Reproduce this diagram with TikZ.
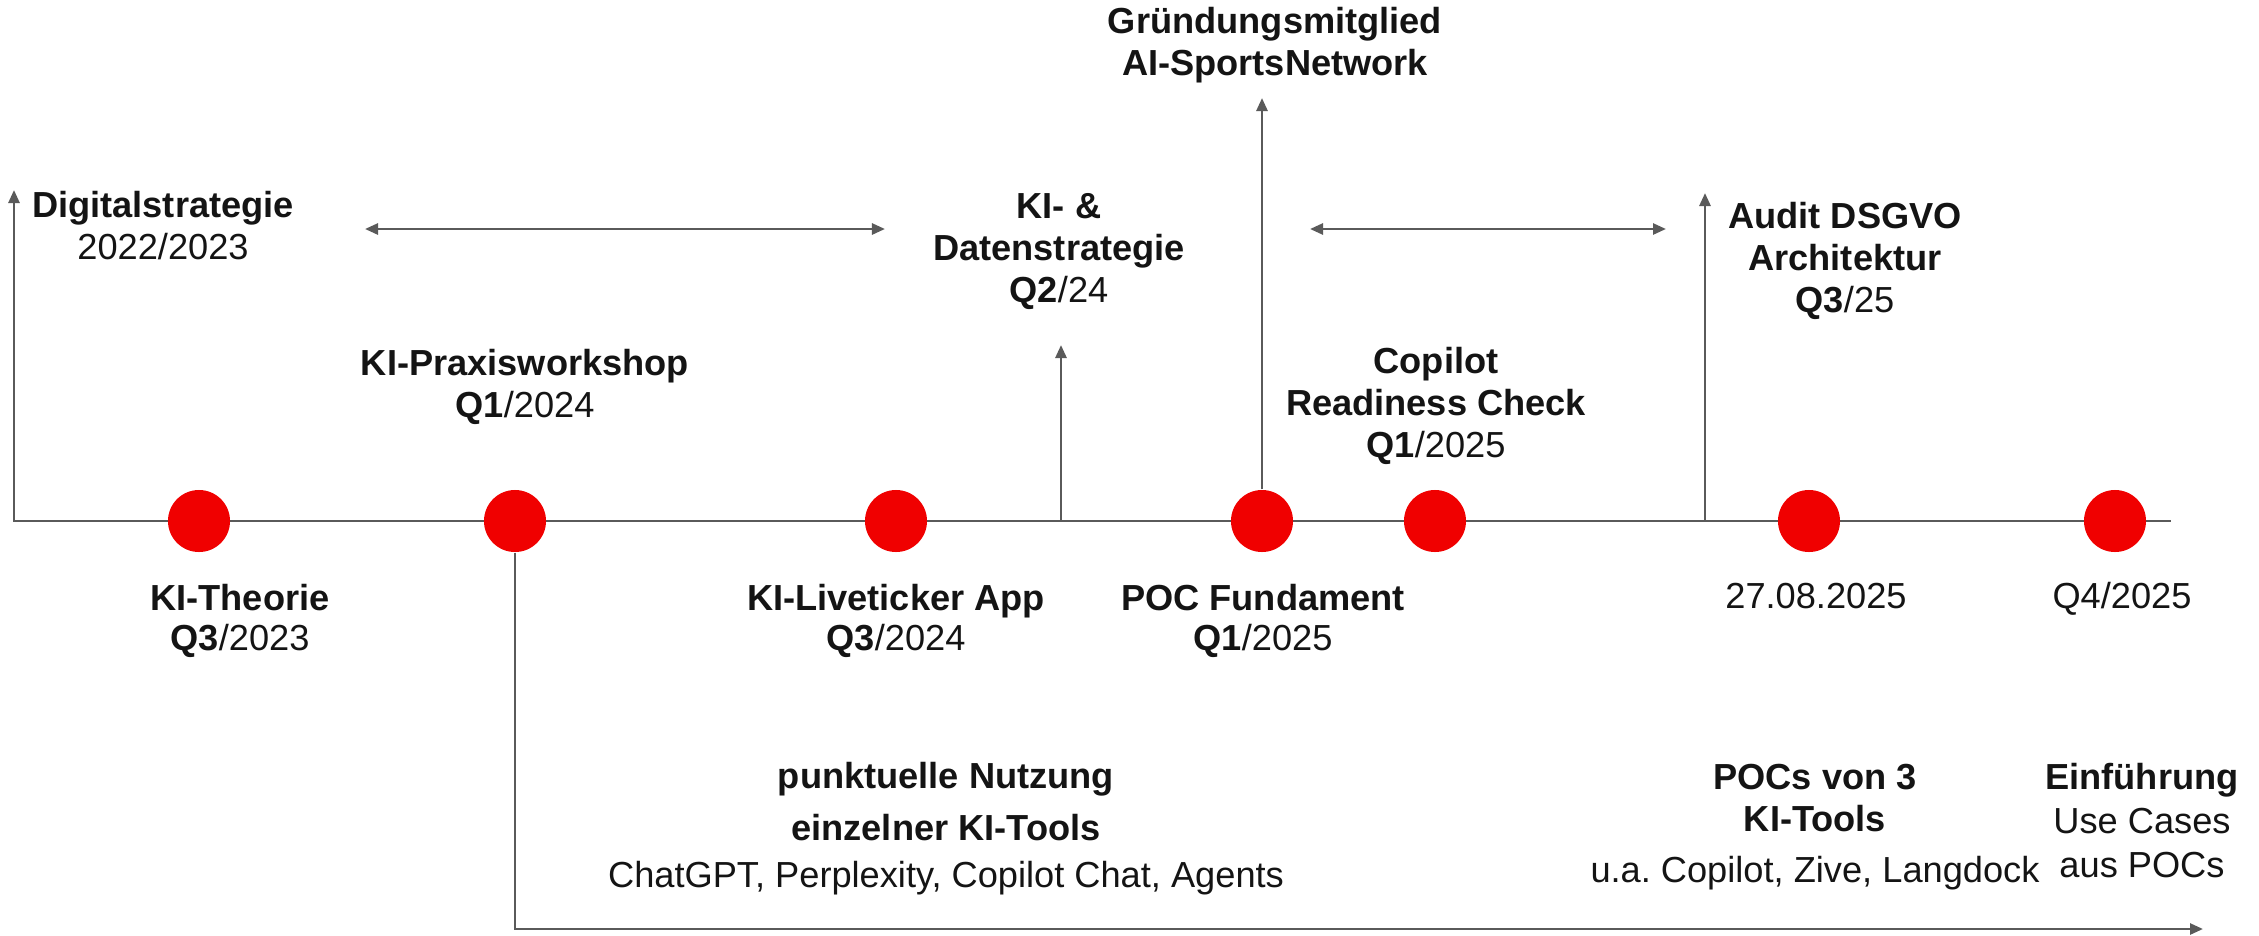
\documentclass[tikz,border=0pt]{standalone}
\usepackage{fontspec}
\setmainfont{Liberation Sans}
\usetikzlibrary{arrows.meta}
\definecolor{dotred}{RGB}{240,0,0}
\definecolor{linegray}{RGB}{90,90,90}
\definecolor{txt}{RGB}{20,20,20}
\frenchspacing
\newcommand{\stacklines}[1]{\begin{tabular}[t]{@{}c@{}}#1\end{tabular}}
\tikzset{
  axis/.style={draw=linegray, line width=0.75pt},
  arr/.style={axis, -{Triangle[length=0.13cm,width=0.11cm]}},
  larr/.style={axis, {Triangle[length=0.13cm,width=0.11cm]}-},
  darr/.style={axis, {Triangle[length=0.13cm,width=0.11cm]}-{Triangle[length=0.13cm,width=0.11cm]}},
  dot/.style={circle, fill=dotred, minimum size=0.62cm, inner sep=0pt},
  lbl/.style={anchor=base, inner sep=0pt, text=txt, font=\fontsize{10.3}{12}\selectfont},
}
\begin{document}
\begin{tikzpicture}[x=0.01cm, y=-0.01cm]
\useasboundingbox (0,0) rectangle (2259,936);

% axis with left vertical arrow
\coordinate (dsTip) at (14,190);
\coordinate (corner) at (14,521);
\coordinate (axEnd) at (2171,521);
\draw[larr] (dsTip) -- (corner) -- (axEnd);

% vertical arrows from the axis
\coordinate (kiBase) at (1061,521);
\coordinate (kiTip) at (1061,345);
\draw[arr] (kiBase) -- (kiTip);
\coordinate (auBase) at (1705,521);
\coordinate (auTip) at (1705,193);
\draw[arr] (auBase) -- (auTip);

% double arrows
\coordinate (h1a) at (365,229);
\coordinate (h1b) at (885,229);
\draw[darr] (h1a) -- (h1b);
\coordinate (h2a) at (1310,229);
\coordinate (h2b) at (1666,229);
\draw[darr] (h2a) -- (h2b);

% milestone dots
\node[dot] (c1) at (199,521) {};
\node[dot] (c2) at (515,521) {};
\node[dot] (c3) at (896,521) {};
\node[dot] (c4) at (1262,521) {};
\node[dot] (c5) at (1435,521) {};
\node[dot] (c6) at (1809,521) {};
\node[dot] (c7) at (2115,521) {};

% arrow up from c4
\coordinate (grTip) at (1262,98);
\draw[arr] (c4.north) -- (grTip);

% bottom L arrow from c2
\coordinate (btCorner) at (515,929);
\coordinate (btTip) at (2203,929);
\draw[arr] (c2.south) -- (btCorner) -- (btTip);

% labels above
\node[lbl] (dig) at (163,217) {\stacklines{\textbf{Digitalstrategie}\\2022/2023}};
\node[lbl] (prax) at (525,375) {\stacklines{\textbf{KI-Praxisworkshop}\\\textbf{Q1}/2024}};
\node[lbl] (dat) at (1059,218) {\stacklines{\textbf{KI- \&}\\\textbf{Datenstrategie}\\\textbf{Q2}/24}};
\node[lbl] (gruend) at (1275,33) {\stacklines{\textbf{Gründungsmitglied}\\\textbf{AI-SportsNetwork}}};
\node[lbl] (copi) at (1436,373) {\stacklines{\textbf{Copilot}\\\textbf{Readiness Check}\\\textbf{Q1}/2025}};
\node[lbl] (audit) at (1845,228) {\stacklines{\textbf{Audit DSGVO}\\\textbf{Architektur}\\\textbf{Q3}/25}};

% labels below the axis
\node[lbl] (theo) at (240,610) {\stacklines{\textbf{KI-Theorie}\\[-0.6pt]\textbf{Q3}/2023}};
\node[lbl] (live) at (896,610) {\stacklines{\textbf{KI-Liveticker App}\\[-0.6pt]\textbf{Q3}/2024}};
\node[lbl] (poc) at (1263,610) {\stacklines{\textbf{POC Fundament}\\[-0.6pt]\textbf{Q1}/2025}};
\node[lbl] (d27) at (1816,608) {27.08.2025};
\node[lbl] (q4) at (2122,608) {Q4/2025};

% bottom labels
\node[lbl] (punkt) at (946,788) {\stacklines{\textbf{punktuelle Nutzung}\\[2.8pt]\textbf{einzelner KI-Tools}\\[1.4pt]ChatGPT, Perplexity, Copilot Chat, Agents}};
\node[lbl] (pocs) at (1815,789) {\stacklines{\textbf{POCs von 3}\\\textbf{KI-Tools}\\[2.5pt]u.a. Copilot, Zive, Langdock}};
\node[lbl] (einf) at (2142,789) {\stacklines{\textbf{Einführung}\\[0.6pt]Use Cases\\[0.6pt]aus POCs}};
\end{tikzpicture}
\end{document}
